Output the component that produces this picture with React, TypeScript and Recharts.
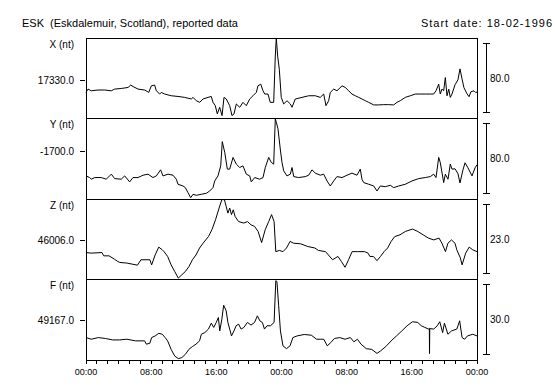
import { LineChart, Line, XAxis, YAxis, ReferenceArea } from "recharts";

const FONT = "'Liberation Sans', Arial, Helvetica, sans-serif";

// hours after 18-02-1996 00:00
const hoursX = [0, 0.25, 0.65, 1.47, 2.3, 3.11, 3.52, 4.33, 5.16, 5.49, 5.77, 6.38, 7.21, 7.7, 8.02, 8.43, 8.63, 9.05, 9.24, 9.66, 10.47, 11.29, 12.12, 12.93, 13.14, 13.54, 13.96, 14.36, 14.98, 15.38, 15.59, 15.87, 16.12, 16.41, 16.7, 16.94, 17.22, 17.64, 17.92, 18.17, 18.45, 18.87, 19.27, 19.68, 20.1, 20.5, 20.91, 21.11, 21.45, 21.73, 21.94, 22.34, 22.62, 23.04, 23.24, 23.36, 23.53, 23.73, 23.97, 24.27, 24.68, 25.08, 25.29, 25.69, 26.52, 27.34, 28.15, 28.76, 29.18, 29.46, 29.79, 29.99, 30.41, 30.81, 31.43, 31.83, 32.25, 32.65, 33.06, 33.48, 33.88, 34.29, 34.7, 35.32, 35.93, 36.55, 37.16, 37.77, 38.18, 38.58, 39.2, 39.81, 40.42, 41.04, 41.65, 42.27, 42.68, 42.97, 43.3, 43.49, 43.7, 43.91, 44.11, 44.32, 44.53, 44.72, 44.93, 45.3, 45.66, 45.91, 46.16, 46.4, 46.77, 47.02, 47.26, 47.63, 47.87, 48];
const valuesX = [17316.4, 17320.3, 17318.3, 17319.2, 17319.2, 17318.3, 17320.3, 17321.0, 17322.2, 17325.0, 17323.3, 17320.3, 17319.2, 17316.4, 17324.1, 17325.0, 17318.3, 17314.5, 17316.4, 17314.5, 17312.5, 17311.7, 17310.6, 17308.7, 17310.6, 17306.7, 17304.8, 17308.7, 17310.6, 17311.7, 17304.8, 17300.9, 17291.3, 17299.0, 17289.3, 17310.6, 17308.7, 17300.9, 17289.3, 17291.3, 17302.9, 17299.0, 17304.8, 17300.9, 17308.7, 17312.5, 17316.4, 17324.1, 17326.1, 17318.3, 17314.5, 17314.5, 17304.8, 17304.8, 17358.9, 17380.0, 17358.9, 17343.5, 17310.6, 17302.9, 17306.7, 17302.9, 17299.0, 17308.7, 17310.6, 17312.5, 17312.5, 17310.6, 17314.5, 17300.9, 17306.7, 17316.4, 17320.3, 17318.3, 17324.1, 17322.2, 17318.3, 17314.5, 17312.5, 17310.6, 17308.7, 17306.7, 17304.8, 17301.8, 17301.8, 17302.1, 17302.1, 17301.8, 17304.8, 17306.7, 17310.6, 17312.5, 17314.5, 17314.5, 17314.5, 17314.5, 17314.5, 17318.3, 17326.1, 17314.5, 17320.3, 17318.3, 17333.8, 17312.5, 17320.3, 17310.6, 17314.5, 17325.3, 17331.1, 17343.9, 17332.3, 17321.9, 17314.9, 17311.4, 17317.2, 17318.3, 17316.0, 17317.2];

const hoursY = [0, 0.45, 0.65, 1.07, 1.88, 2.49, 3.11, 3.52, 4.33, 4.75, 5.36, 5.77, 6.38, 7.0, 7.61, 8.22, 8.63, 9.16, 9.45, 10.07, 10.68, 11.09, 11.29, 11.91, 12.19, 12.52, 12.85, 13.14, 13.54, 14.15, 14.77, 15.18, 15.59, 15.8, 16.2, 16.54, 16.73, 17.03, 17.35, 17.64, 18.05, 18.45, 18.87, 19.27, 19.68, 20.1, 20.29, 20.71, 21.32, 21.73, 22.01, 22.43, 22.75, 23.04, 23.24, 23.36, 23.57, 23.85, 24.06, 24.27, 24.67, 25.08, 25.29, 25.5, 26.11, 26.92, 27.34, 27.74, 28.15, 28.76, 29.18, 29.59, 29.99, 30.41, 30.81, 31.43, 32.04, 32.65, 33.27, 33.67, 33.88, 34.09, 34.7, 35.32, 35.72, 36.13, 36.74, 37.36, 37.77, 38.39, 39.2, 40.02, 40.84, 41.65, 42.27, 42.68, 42.97, 43.3, 43.49, 43.91, 44.11, 44.44, 44.72, 44.93, 45.3, 45.67, 45.91, 46.28, 46.53, 46.89, 47.39, 47.76, 48];
const valuesY = [-1728.5, -1730.4, -1732.3, -1730.4, -1730.4, -1732.3, -1726.5, -1731.6, -1732.3, -1728.5, -1735.4, -1730.4, -1730.4, -1727.7, -1726.5, -1730.4, -1728.5, -1721.5, -1728.5, -1726.5, -1727.7, -1732.3, -1738.1, -1740.1, -1742.0, -1747.8, -1753.6, -1749.7, -1750.8, -1749.7, -1748.5, -1745.9, -1742.0, -1734.3, -1728.5, -1716.9, -1689.0, -1701.4, -1720.7, -1720.7, -1707.2, -1714.9, -1718.8, -1716.9, -1726.5, -1728.5, -1735.4, -1730.4, -1732.3, -1730.4, -1718.8, -1707.2, -1713.0, -1714.9, -1662.7, -1666.6, -1674.3, -1697.5, -1713.0, -1722.7, -1728.5, -1726.5, -1718.8, -1729.3, -1730.4, -1729.3, -1727.7, -1721.5, -1725.3, -1727.7, -1726.5, -1734.3, -1740.1, -1734.3, -1729.3, -1730.4, -1727.7, -1725.3, -1727.7, -1720.7, -1732.3, -1736.2, -1738.1, -1740.1, -1745.9, -1740.1, -1740.9, -1739.3, -1742.0, -1740.1, -1738.1, -1734.3, -1731.6, -1730.4, -1729.3, -1726.5, -1730.4, -1707.2, -1713.0, -1736.2, -1726.5, -1732.3, -1714.9, -1720.7, -1720.3, -1726.1, -1736.6, -1721.5, -1713.4, -1719.2, -1728.5, -1719.2, -1715.7];

const hoursZ = [0, 0.65, 1.96, 2.18, 2.83, 3.48, 3.92, 4.14, 5.01, 6.32, 6.75, 7.84, 8.06, 8.49, 8.93, 9.37, 9.58, 10.02, 10.45, 10.89, 11.33, 11.76, 12.2, 12.63, 13.07, 13.5, 13.94, 14.37, 15.03, 15.46, 15.9, 16.34, 16.68, 16.99, 17.21, 17.42, 17.64, 17.86, 18.08, 18.3, 18.73, 19.38, 19.82, 20.26, 20.69, 21.13, 21.56, 22.0, 22.43, 22.78, 23.09, 23.3, 23.74, 24.18, 24.61, 25.05, 25.48, 26.35, 27.23, 28.1, 28.53, 29.4, 30.27, 30.93, 31.36, 31.8, 32.23, 32.67, 33.32, 34.2, 34.63, 34.85, 35.28, 35.72, 36.15, 36.59, 37.03, 37.46, 37.9, 38.55, 39.2, 40.08, 40.73, 41.38, 42.04, 42.69, 43.34, 43.69, 44.13, 44.43, 44.87, 45.3, 45.52, 45.96, 46.17, 46.61, 47.04, 47.48, 48];
const valuesZ = [46002.0, 46001.8, 46002.0, 46000.9, 46000.9, 45999.8, 45999.0, 45998.7, 45998.5, 45997.8, 45999.6, 45999.6, 45997.9, 46001.2, 46003.8, 46002.9, 46002.3, 46000.7, 45997.9, 45995.7, 45993.5, 45994.6, 45995.7, 45997.3, 45999.6, 46001.2, 46003.5, 46005.1, 46007.3, 46009.6, 46012.9, 46016.8, 46019.6, 46019.6, 46017.3, 46015.1, 46016.8, 46014.6, 46016.2, 46014.0, 46012.3, 46011.8, 46012.3, 46011.2, 46010.7, 46009.0, 46005.3, 46009.6, 46012.3, 46014.6, 46012.3, 46002.3, 46002.7, 46002.3, 46003.5, 46005.7, 46005.1, 46004.9, 46004.0, 46003.5, 46002.7, 46002.3, 45999.6, 46000.7, 45999.0, 45997.1, 45999.6, 46002.3, 46002.3, 46002.3, 46001.8, 46000.7, 46000.7, 45999.3, 46000.7, 46002.3, 46003.5, 46005.7, 46007.3, 46007.9, 46009.0, 46009.8, 46009.0, 46007.9, 46006.8, 46006.2, 46006.8, 46005.1, 46002.3, 46005.1, 46006.2, 46005.1, 46002.9, 46000.2, 45997.9, 46001.8, 46003.8, 46002.9, 46002.3];

const hoursF = [0, 0.65, 1.52, 2.4, 3.27, 4.14, 5.01, 6.1, 7.19, 7.41, 7.84, 8.06, 8.49, 8.93, 9.37, 9.71, 10.02, 10.45, 10.89, 11.33, 11.76, 12.2, 12.63, 13.07, 13.5, 13.94, 14.16, 14.59, 15.03, 15.38, 15.68, 15.99, 16.25, 16.42, 16.68, 16.9, 17.21, 17.42, 17.64, 17.86, 18.16, 18.43, 18.73, 19.04, 19.38, 19.82, 20.26, 20.69, 21.04, 21.34, 21.65, 21.91, 22.22, 22.65, 23.09, 23.3, 23.44, 23.65, 23.87, 24.18, 24.61, 25.05, 25.4, 25.92, 26.79, 27.66, 28.31, 28.75, 29.19, 29.62, 30.06, 30.49, 31.15, 31.8, 32.45, 32.89, 33.32, 33.76, 34.41, 35.07, 35.72, 36.15, 36.81, 37.46, 38.12, 38.77, 39.42, 40.08, 40.73, 41.16, 41.6, 42.04, 42.15, 42.17, 42.2, 42.69, 43.12, 43.43, 43.78, 44.0, 44.43, 44.87, 45.52, 45.87, 46.17, 46.48, 46.83, 47.48, 48];
const valuesF = [49159.9, 49159.2, 49159.9, 49159.5, 49158.9, 49158.9, 49159.2, 49158.5, 49158.5, 49157.1, 49157.5, 49159.9, 49160.6, 49161.7, 49161.3, 49159.9, 49158.5, 49154.9, 49152.1, 49151.0, 49151.4, 49152.8, 49154.9, 49156.1, 49157.1, 49158.5, 49161.3, 49162.0, 49163.5, 49166.0, 49164.2, 49166.3, 49168.4, 49162.7, 49167.7, 49173.6, 49171.2, 49166.3, 49163.5, 49160.6, 49162.7, 49164.9, 49165.6, 49163.5, 49164.2, 49166.3, 49165.2, 49166.3, 49169.1, 49167.0, 49166.3, 49163.5, 49164.9, 49164.9, 49166.3, 49184.0, 49183.6, 49173.4, 49162.7, 49156.4, 49155.2, 49156.4, 49159.9, 49160.6, 49161.2, 49160.9, 49159.2, 49159.2, 49159.2, 49156.4, 49157.8, 49159.5, 49159.9, 49159.2, 49159.9, 49158.1, 49159.2, 49157.1, 49155.2, 49154.9, 49153.2, 49154.2, 49156.1, 49158.5, 49160.6, 49162.7, 49164.9, 49166.6, 49166.3, 49164.9, 49164.2, 49163.5, 49163.7, 49153.1, 49163.7, 49163.5, 49164.9, 49166.6, 49162.0, 49166.0, 49161.3, 49162.7, 49163.5, 49167.0, 49159.9, 49159.2, 49160.6, 49161.3, 49160.6];

const panelNames = ["X (nt)", "Y (nt)", "Z (nt)", "F (nt)"];
const refValues = [17330, -1700, 46006, 49167];
const scaleValues = [80, 80, 23, 30];
const timeTicks = [0, 8, 16, 24, 32, 40, 48];
const timeLabels = ["00:00", "08:00", "16:00", "00:00", "08:00", "16:00", "00:00"];

const series = [
  { hours: hoursX, values: valuesX },
  { hours: hoursY, values: valuesY },
  { hours: hoursZ, values: valuesZ },
  { hours: hoursF, values: valuesF },
];

const W = 555;
const H = 390;
const LEFT = 86;
const RIGHT = 477;
const PANEL_TOPS = [38, 118, 199, 279];
const PANEL_BOTTOM = 360;
const domains: [number, number][] = [
  [17286.5, 17380],
  [-1755.1, -1661.8],
  [45993.2, 46019.8],
  [49150.4, 49184.7],
];

// minor ticks every 80 minutes, labels every 8 hours
const minorTicks = Array.from({ length: 37 }, (_, i) => (i * 4) / 3);

function LeftTick(props: any) {
  const { y, payload } = props;
  return (
    <g>
      <line x1={80} x2={85} y1={y} y2={y} stroke="#000" shapeRendering="crispEdges" />
      <text x={74} y={y + 3.5} textAnchor="end" fontSize={10} fontFamily={FONT} fill="#000">
        {Number(payload.value).toFixed(1)}
      </text>
    </g>
  );
}

function ScaleTick(props: any) {
  const { y, half, label } = props;
  const bx = 486;
  return (
    <g>
      <line x1={bx} x2={bx} y1={y - half} y2={y + half} stroke="#000" shapeRendering="crispEdges" />
      <line x1={bx - 3} x2={bx + 4} y1={y - half} y2={y - half} stroke="#000" shapeRendering="crispEdges" />
      <line x1={bx - 3} x2={bx + 4} y1={y + half} y2={y + half} stroke="#000" shapeRendering="crispEdges" />
      <text x={490} y={y + 3.5} fontSize={10} fontFamily={FONT} fill="#000">
        {label}
      </text>
    </g>
  );
}

function TimeTick(props: any) {
  const { x, y, payload } = props;
  const k = timeTicks.findIndex((t) => Math.abs(t - payload.value) < 0.01);
  if (k < 0) return <g />;
  return (
    <text x={x} y={y + 9} textAnchor="middle" fontSize={9} fontFamily={FONT} fill="#000">
      {timeLabels[k]}
    </text>
  );
}

function Panel({ idx }: { idx: number }) {
  const top = PANEL_TOPS[idx];
  const bottom = idx < 3 ? PANEL_TOPS[idx + 1] : PANEL_BOTTOM;
  const plotH = bottom - top;
  const last = idx === 3;
  const axisH = last ? 30 : 0;
  const [lo, hi] = domains[idx];
  const half = ((scaleValues[idx] / (hi - lo)) * plotH) / 2;
  const { hours, values } = series[idx];
  const data = hours.map((t, i) => ({ t, v: values[i] }));
  return (
    <div style={{ position: "absolute", left: 0, top }}>
      <LineChart width={W} height={plotH + axisH} data={data} margin={{ top: 0, right: 0, bottom: 0, left: 0 }}>
        <XAxis
          dataKey="t"
          type="number"
          domain={[0, 48]}
          ticks={minorTicks}
          hide={!last}
          height={axisH}
          axisLine={false}
          tickSize={4}
          tickLine={{ stroke: "#000", shapeRendering: "crispEdges" }}
          tick={TimeTick}
          interval={0}
        />
        <YAxis
          yAxisId="l"
          type="number"
          domain={[lo, hi]}
          allowDataOverflow
          ticks={[refValues[idx]]}
          width={LEFT}
          axisLine={false}
          tickLine={false}
          tick={LeftTick}
        />
        <YAxis
          yAxisId="r"
          orientation="right"
          type="number"
          domain={[lo, hi]}
          allowDataOverflow
          ticks={[(lo + hi) / 2]}
          width={W - RIGHT}
          axisLine={false}
          tickLine={false}
          tick={(p: any) => <ScaleTick {...p} half={half} label={scaleValues[idx].toFixed(1)} />}
        />
        <ReferenceArea
          yAxisId="l"
          x1={0}
          x2={48}
          y1={lo}
          y2={hi}
          fill="none"
          fillOpacity={0}
          stroke="#000"
          strokeWidth={1}
          shapeRendering="crispEdges"
        />
        <Line
          yAxisId="l"
          dataKey="v"
          type="linear"
          stroke="#000"
          strokeWidth={1}
          dot={false}
          isAnimationActive={false}
        />
      </LineChart>
    </div>
  );
}

export default function App() {
  return (
    <div style={{ position: "absolute", left: 0, top: 0, width: W, height: H, background: "#fff" }}>
      {[0, 1, 2, 3].map((i) => (
        <Panel key={i} idx={i} />
      ))}
      <svg width={W} height={H} style={{ position: "absolute", left: 0, top: 0, pointerEvents: "none" }}>
        <text x={22} y={27} fontSize={11} fontFamily={FONT} fill="#000" style={{ whiteSpace: "pre" }}>
          {"ESK  (Eskdalemuir, Scotland), reported data"}
        </text>
        <text x={553} y={27} fontSize={11} fontFamily={FONT} fill="#000" textAnchor="end" letterSpacing={1}>
          Start date: 18-02-1996
        </text>
        {panelNames.map((n, i) => (
          <text key={n} x={74} y={PANEL_TOPS[i] + 10} fontSize={10} fontFamily={FONT} fill="#000" textAnchor="end">
            {n}
          </text>
        ))}
      </svg>
    </div>
  );
}
